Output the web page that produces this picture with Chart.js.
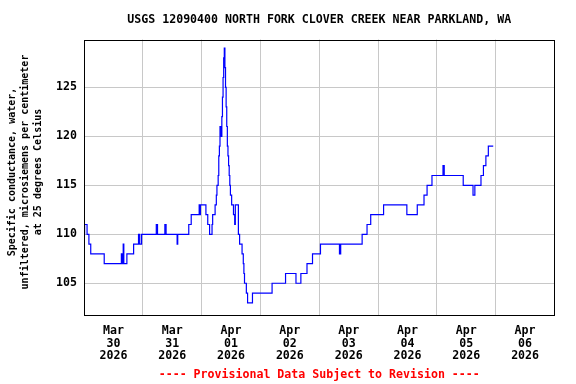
<!DOCTYPE html>
<html>
<head>
<meta charset="utf-8">
<script src="https://cdn.jsdelivr.net/npm/chart.js@4/dist/chart.umd.min.js"></script>
<style>
html,body{margin:0;padding:0;background:#fff;}
canvas{display:block;}
</style>
</head>
<body>
<canvas id="c" width="576" height="384"></canvas>
<script>
// Hours since 2026-03-30 00:00 at which the value changes
const hours = [0, 0.25, 1.25, 2, 2.75, 8.25, 15.25, 15.5, 16, 16.25, 17.5, 20.25, 22.25, 22.75, 23.5, 29.5, 30, 33, 33.5, 38, 38.25, 42.75, 43.75, 47, 47.25, 47.5, 49.75, 50.5, 51.25, 52.25, 52.5, 53.5, 54, 54.25, 54.75, 55, 55.25, 55.5, 55.75, 56, 56.25, 56.5, 56.75, 57, 57.25, 57.5, 57.75, 58, 58.25, 58.5, 58.75, 59, 59.25, 59.5, 59.75, 60.25, 61, 61.5, 61.75, 63, 63.5, 64.5, 65, 65.25, 65.5, 66.25, 66.75, 68.75, 76.75, 82.25, 86.5, 88.5, 91, 93.25, 96.5, 104.25, 104.75, 113.5, 115.5, 117, 122.25, 131.75, 136, 138.75, 140, 142, 146.5, 147, 154.75, 158.75, 159.5, 162, 163, 164, 165, 167];
const conductance = [110, 111, 110, 109, 108, 107, 108, 107, 109, 107, 108, 109, 110, 109, 110, 111, 110, 111, 110, 109, 110, 111, 112, 113, 112, 113, 112, 111, 110, 111, 112, 113, 114, 115, 116, 118, 119, 121, 121, 120, 122, 124, 126, 128, 129, 127, 125, 123, 121, 119, 118, 117, 116, 115, 114, 113, 112, 111, 113, 110, 109, 108, 107, 106, 105, 104, 103, 104, 105, 106, 105, 106, 107, 108, 109, 108, 109, 110, 111, 112, 113, 112, 113, 114, 115, 116, 117, 116, 115, 114, 115, 116, 117, 118, 119, 119];

const tickMonths = ['Mar', 'Mar', 'Apr', 'Apr', 'Apr', 'Apr', 'Apr', 'Apr'];
const tickDays = ['30', '31', '01', '02', '03', '04', '05', '06'];
const tickYears = ['2026', '2026', '2026', '2026', '2026', '2026', '2026', '2026'];
const yTicks = [105, 110, 115, 120, 125];

const titleText = 'USGS 12090400 NORTH FORK CLOVER CREEK NEAR PARKLAND, WA';
const yTitleLines = ['Specific conductance, water,', 'unfiltered, microsiemens per centimeter', 'at 25 degrees Celsius'];
const footerText = '---- Provisional Data Subject to Revision ----';

const FONT = '"DejaVu Sans Mono", "Liberation Mono", monospace';
const GRID = '#c8c8c8';
const X_MAX = 192;

const textPlugin = {
  id: 'texts',
  afterDraw(chart) {
    const ctx = chart.ctx;
    const ca = chart.chartArea;
    const cx = (ca.left + ca.right) / 2;
    ctx.save();
    ctx.strokeStyle = '#000';
    ctx.lineWidth = 1;
    ctx.strokeRect(Math.round(ca.left) + 0.5, Math.round(ca.top) + 0.5,
      Math.round(ca.right) - Math.round(ca.left) - 1, Math.round(ca.bottom) - Math.round(ca.top) - 1);
    ctx.textAlign = 'center';
    ctx.textBaseline = 'middle';
    ctx.fillStyle = '#000';
    ctx.font = 'bold 11.6px ' + FONT;
    ctx.fillText(titleText, cx, 19.5);
    ctx.fillStyle = '#ff0000';
    ctx.fillText(footerText, cx, 374.5);
    ctx.fillStyle = '#000';
    ctx.font = 'bold 10px ' + FONT;
    const xs = [12.5, 25.5, 38.5];
    for (let i = 0; i < yTitleLines.length; i++) {
      ctx.save();
      ctx.translate(xs[i], 172);
      ctx.rotate(-Math.PI / 2);
      ctx.fillText(yTitleLines[i], 0, 0);
      ctx.restore();
    }
    ctx.restore();
  }
};

new Chart(document.getElementById('c'), {
  type: 'line',
  data: {
    datasets: [{
      data: hours.map((h, i) => ({ x: h, y: conductance[i] })),
      borderColor: '#0000ff',
      borderWidth: 1.2,
      pointRadius: 0,
      stepped: true,
      fill: false
    }]
  },
  options: {
    responsive: false,
    animation: false,
    layout: { padding: { top: 39.5, right: 21.5, left: 0, bottom: 0 } },
    plugins: { legend: { display: false }, tooltip: { enabled: false } },
    scales: {
      x: {
        type: 'linear',
        min: 0,
        max: X_MAX,
        afterBuildTicks(scale) {
          const t = [];
          for (let v = 0; v <= X_MAX; v += 12) t.push({ value: v });
          scale.ticks = t;
        },
        afterFit(scale) { scale.height = 68; },
        border: { display: false },
        grid: {
          drawTicks: false,
          tickLength: 0,
          lineWidth: 1,
          color: (c) => {
            const v = c.tick ? c.tick.value : -1;
            return (v > 0 && v < X_MAX && v % 24 === 0) ? GRID : 'rgba(0,0,0,0)';
          }
        },
        ticks: {
          autoSkip: false,
          maxRotation: 0,
          minRotation: 0,
          padding: 8,
          color: '#000',
          font: { family: FONT, size: 11.6, weight: 'bold', lineHeight: 1.12 },
          callback: (v) => {
            if (v % 24 !== 12) return '';
            const i = (v - 12) / 24;
            return [tickMonths[i], tickDays[i], tickYears[i]];
          }
        }
      },
      y: {
        type: 'linear',
        min: 101.66,
        max: 129.88,
        afterBuildTicks(scale) { scale.ticks = yTicks.map(v => ({ value: v })); },
        afterFit(scale) { scale.width = 84; },
        border: { display: false },
        grid: { drawTicks: false, tickLength: 0, color: GRID, lineWidth: 1 },
        ticks: {
          padding: 7,
          color: '#000',
          font: { family: FONT, size: 11.6, weight: 'bold' },
          callback: (v) => String(v)
        }
      }
    }
  },
  plugins: [textPlugin]
});
</script>
</body>
</html>
